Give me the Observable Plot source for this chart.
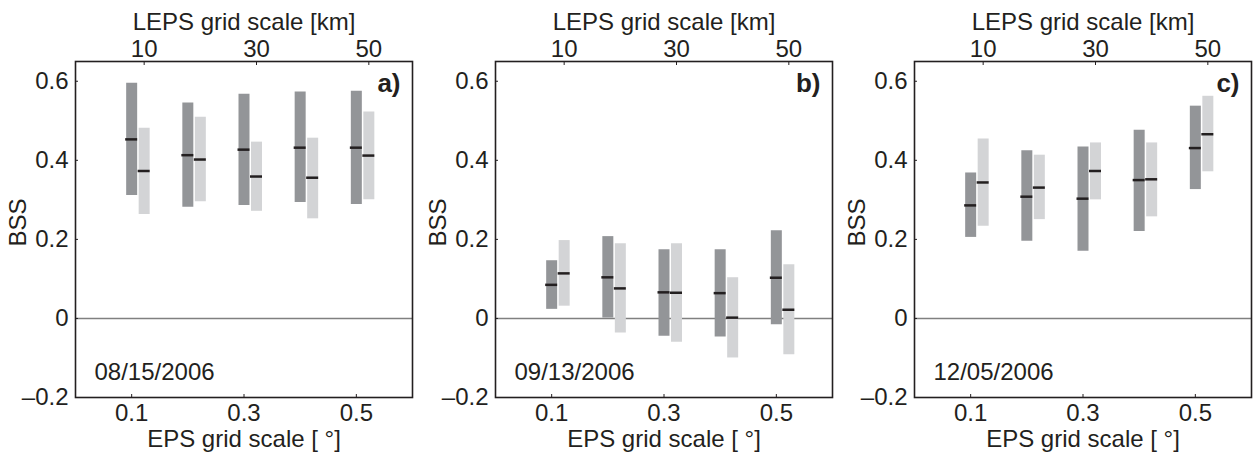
<!DOCTYPE html>
<html>
<head>
<meta charset="utf-8">
<script src="https://cdn.jsdelivr.net/npm/d3@7"></script>
<script src="https://cdn.jsdelivr.net/npm/@observablehq/plot@0.6"></script>
<style>
  html, body { margin: 0; padding: 0; background: #fff; }
  #wrap { position: relative; width: 1253px; height: 452px; overflow: hidden; }
  #wrap svg { position: absolute; top: 0; }
</style>
</head>
<body>
<div id="wrap"></div>
<script>
// ---- data ----
const eps = [0.1, 0.2, 0.3, 0.4, 0.5];          // EPS grid scale [deg]
const lepsKm = [10, 20, 30, 40, 50];            // LEPS grid scale [km]
const bottomTicks = [0.1, 0.3, 0.5];
const yTicks = [-0.2, 0, 0.2, 0.4, 0.6];
const dates = ["08/15/2006", "09/13/2006", "12/05/2006"];
const panelLabels = ["a)", "b)", "c)"];

// Panel a
const epsHighA  = [0.595, 0.545, 0.567, 0.573, 0.575];
const epsLowA   = [0.311, 0.281, 0.286, 0.293, 0.288];
const epsMedA   = [0.453, 0.413, 0.427, 0.432, 0.432];
const lepsHighA = [0.481, 0.509, 0.446, 0.456, 0.522];
const lepsLowA  = [0.263, 0.295, 0.271, 0.252, 0.300];
const lepsMedA  = [0.373, 0.402, 0.359, 0.356, 0.412];
// Panel b
const epsHighB  = [0.146, 0.207, 0.174, 0.174, 0.222];
const epsLowB   = [0.023, 0.001, -0.045, -0.047, -0.016];
const epsMedB   = [0.085, 0.104, 0.066, 0.064, 0.103];
const lepsHighB = [0.197, 0.189, 0.189, 0.103, 0.136];
const lepsLowB  = [0.031, -0.037, -0.060, -0.100, -0.092];
const lepsMedB  = [0.114, 0.076, 0.065, 0.002, 0.022];
// Panel c
const epsHighC  = [0.368, 0.424, 0.434, 0.476, 0.537];
const epsLowC   = [0.205, 0.195, 0.170, 0.220, 0.326];
const epsMedC   = [0.286, 0.308, 0.303, 0.350, 0.431];
const lepsHighC = [0.454, 0.413, 0.444, 0.444, 0.562];
const lepsLowC  = [0.233, 0.250, 0.300, 0.257, 0.371];
const lepsMedC  = [0.344, 0.331, 0.373, 0.352, 0.466];

const panels = [
  {epsHigh: epsHighA, epsLow: epsLowA, epsMed: epsMedA, lepsHigh: lepsHighA, lepsLow: lepsLowA, lepsMed: lepsMedA},
  {epsHigh: epsHighB, epsLow: epsLowB, epsMed: epsMedB, lepsHigh: lepsHighB, lepsLow: lepsLowB, lepsMed: lepsMedB},
  {epsHigh: epsHighC, epsLow: epsLowC, epsMed: epsMedC, lepsHigh: lepsHighC, lepsLow: lepsLowC, lepsMed: lepsMedC}
];

// ---- layout ----
const layout = [
  {left: 0,   width: 420, marginRight: 8},
  {left: 420, width: 420, marginRight: 8},
  {left: 839, width: 414, marginRight: 2}
];
const FONT = "'Liberation Sans', Arial, Helvetica, sans-serif";
const INK = "#231f20";
const DARK = "#939598";
const LIGHT = "#d3d4d6";
const SHIFT = 12.5; // px offset of LEPS bars / top axis
const BARW = 11;

const wrap = document.getElementById("wrap");

panels.forEach((p, k) => {
  const rows = eps.map((e, i) => ({
    eps: e, km: lepsKm[i],
    eHi: p.epsHigh[i], eLo: p.epsLow[i], eMed: p.epsMed[i],
    lHi: p.lepsHigh[i], lLo: p.lepsLow[i], lMed: p.lepsMed[i]
  }));
  const L = layout[k];
  const chart = Plot.plot({
    width: L.width,
    height: 452,
    marginLeft: 75,
    marginRight: L.marginRight,
    marginTop: 61,
    marginBottom: 55,
    style: {fontFamily: FONT, fontSize: "24px", color: INK, background: "transparent", overflow: "visible"},
    x: {domain: [0, 0.6], axis: null},
    y: {domain: [-0.2, 0.65], axis: null},
    marks: [
      Plot.ruleY([0], {stroke: "#808080", strokeWidth: 1.5}),
      // EPS bars (dark)
      Plot.ruleX(rows, {x: "eps", y1: "eLo", y2: "eHi", stroke: DARK, strokeWidth: BARW}),
      // LEPS bars (light)
      Plot.ruleX(rows, {x: "eps", y1: "lLo", y2: "lHi", stroke: LIGHT, strokeWidth: BARW, dx: SHIFT}),
      // medians
      Plot.ruleY(rows, {y: "eMed", x1: "eps", x2: "eps", insetLeft: -BARW / 2 - 0.5, insetRight: -BARW / 2 - 0.5, stroke: INK, strokeWidth: 2.5}),
      Plot.ruleY(rows, {y: "lMed", x1: "eps", x2: "eps", insetLeft: -BARW / 2 - 0.5, insetRight: -BARW / 2 - 0.5, stroke: INK, strokeWidth: 2.5, dx: SHIFT}),
      // axes
      Plot.axisY(yTicks, {anchor: "left", tickSize: -3, tickPadding: 10, tickFormat: d => d === 0 ? "0" : (d < 0 ? "\u2013" + Math.abs(d).toFixed(1) : d.toFixed(1)), stroke: INK, fill: INK, label: null}),
      Plot.axisX(bottomTicks, {anchor: "bottom", tickSize: -3, tickPadding: 9, tickFormat: d => d.toFixed(1), stroke: INK, fill: INK, label: null}),
      Plot.axisX(bottomTicks, {anchor: "top", tickSize: -3, tickPadding: 8, tickFormat: d => String(lepsKm[eps.indexOf(d)]), stroke: INK, fill: INK, label: null, dx: SHIFT}),
      Plot.frame({stroke: INK, strokeWidth: 1.6}),
      // labels
      Plot.text(["EPS grid scale [ \u00b0]"], {frameAnchor: "bottom", dy: 42, lineAnchor: "middle", text: d => d, fill: INK}),
      Plot.text(["LEPS grid scale [km]"], {frameAnchor: "top", dy: -39, lineAnchor: "middle", text: d => d, fill: INK}),
      Plot.text(["BSS"], {frameAnchor: "left", dx: -57, dy: -7, rotate: -90, lineAnchor: "middle", textAnchor: "middle", text: d => d, fill: INK}),
      Plot.text([panelLabels[k]], {frameAnchor: "top-right", dx: -12, dy: 22, lineAnchor: "middle", textAnchor: "end", text: d => d, fill: INK, fontWeight: "bold", fontSize: 26}),
      Plot.text([dates[k]], {frameAnchor: "bottom-left", dx: 19, dy: -25, lineAnchor: "middle", textAnchor: "start", text: d => d, fill: INK})
    ]
  });
  chart.style.left = L.left + "px";
  wrap.appendChild(chart);
});
</script>
</body>
</html>
